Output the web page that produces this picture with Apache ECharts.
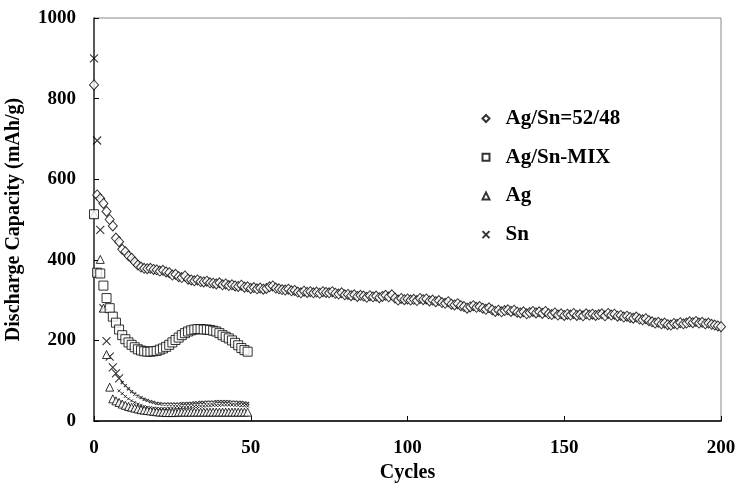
<!DOCTYPE html>
<html>
<head>
<meta charset="utf-8">
<title>Discharge Capacity</title>
<script src="https://cdn.jsdelivr.net/npm/echarts@6/dist/echarts.min.js"></script>
<style>
  html, body { margin: 0; padding: 0; background: #fff; }
  #main { width: 739px; height: 489px; }
</style>
</head>
<body>
<div id="main"></div>
<script>
// series names (legend order)
var seriesNames = ['Ag/Sn=52/48', 'Ag/Sn-MIX', 'Ag', 'Sn'];

// Ag/Sn=52/48, cycles 0..200
var agSn5248 = [
  834, 561, 552, 540, 520, 500, 484, 454, 445, 426,
  420, 410, 404, 395, 387, 382, 379, 378, 379, 376,
  375, 372, 374, 370, 368, 362, 364, 358, 356, 360,
  352, 350, 348, 350, 346, 345, 347, 343, 342, 340,
  343, 338, 340, 336, 338, 335, 334, 337, 332, 333,
  329, 331, 328, 330, 327, 329, 333, 335, 330, 328,
  326, 325, 327, 323, 324, 320, 318, 322, 319, 321,
  318, 320, 317, 321, 319, 318, 321, 317, 315, 318,
  313, 314, 311, 313, 309, 312, 310, 307, 311, 308,
  310, 306, 309, 312, 308, 313, 305, 300, 304, 301,
  303, 300, 302, 299, 304, 301, 303, 298, 300, 296,
  299, 294, 292, 296, 290, 288, 291, 286, 284, 280,
  283, 286, 282, 284, 280, 277, 281, 276, 272, 275,
  271, 274, 276, 272, 275, 270, 268, 271, 266, 269,
  272, 268, 271, 267, 272, 266, 264, 268, 263, 266,
  262, 265, 263, 267, 262, 264, 261, 266, 263, 265,
  262, 264, 266, 261, 267, 263, 265, 260, 262, 258,
  260, 257, 255, 258, 253, 251, 254, 249, 246, 243,
  245, 241, 243, 239, 238, 242, 240, 244, 241, 243,
  246, 244, 247, 243, 245, 241, 243, 240, 238, 236,
  234
];

// Ag/Sn-MIX, cycles 0..49
var agSnMix = [
  513, 368, 366, 336, 305, 280, 259, 244, 227, 213,
  203, 195, 189, 183, 178, 175, 173, 172, 172, 173,
  174, 177, 180, 184, 189, 195, 201, 207, 213, 218,
  222, 225, 227, 228, 228, 227, 227, 226, 224, 222,
  218, 213, 209, 205, 200, 194, 188, 181, 176, 172
];

// Ag, cycles 0..49
var agOnly = [
  513, 370, 401, 280, 165, 84, 55, 50, 46, 42,
  39, 36, 34, 32, 30, 28, 27, 26, 25, 24,
  23, 22, 22, 21, 21, 21, 21, 22, 22, 22,
  22, 22, 22, 22, 22, 22, 22, 22, 22, 22,
  22, 22, 22, 22, 22, 22, 22, 22, 22, 22
];

// Sn, cycles 0..49
var snOnly = [
  900, 696, 474, 280, 198, 160, 133, 118, 106, 95,
  88, 80, 73, 67, 62, 58, 54, 51, 48, 46,
  44, 43, 42, 42, 42, 42, 42, 42, 43, 43,
  44, 44, 45, 45, 46, 46, 47, 47, 47, 48,
  48, 48, 48, 48, 47, 47, 46, 46, 45, 44
];

// unlabelled small marks under the Sn curve, cycles 8..49
var extraStart = 8;
var extraDots = [
  75, 68, 61, 55, 50, 46, 42, 39, 36, 34,
  33, 32, 31, 31, 31, 31, 32, 32, 33, 33,
  34, 34, 35, 35, 36, 36, 37, 37, 38, 38,
  39, 39, 39, 40, 40, 40, 40, 39, 39, 38,
  38, 37
];

var xTicks = [0, 50, 100, 150, 200];
var yTicks = [0, 200, 400, 600, 800, 1000];

function toPoints(arr, start) {
  var out = [];
  start = start || 0;
  for (var i = 0; i < arr.length; i++) {
    out.push([start + i, arr[i]]);
  }
  return out;
}

var serifBold = {
  fontFamily: '"Liberation Serif", "Times New Roman", serif',
  fontWeight: 'bold',
  color: '#000'
};

var hollow = { color: '#fff', borderColor: '#000', borderWidth: 1 };
var crossPath = 'path://M0,0L10,10M10,0L0,10';

var chart = echarts.init(document.getElementById('main'), null, { renderer: 'canvas' });

var option = {
  backgroundColor: '#fff',
  animation: false,
  grid: {
    left: 94, right: 18, top: 18, bottom: 68,
    outerBoundsMode: 'none',
    containLabel: false,
    show: true,
    borderColor: '#888',
    borderWidth: 1
  },
  legend: {
    orient: 'vertical',
    left: 475,
    top: 103,
    itemWidth: 7,
    itemHeight: 7,
    itemGap: 17.7,
    data: seriesNames,
    textStyle: Object.assign({ fontSize: 21, lineHeight: 21, padding: [0, 0, 0, 11] }, serifBold)
  },
  xAxis: {
    type: 'value',
    min: xTicks[0],
    max: xTicks[xTicks.length - 1],
    interval: 50,
    name: 'Cycles',
    nameLocation: 'middle',
    nameGap: 31,
    nameTextStyle: Object.assign({ fontSize: 20 }, serifBold),
    axisLine: { lineStyle: { color: '#000', width: 1.5 } },
    axisTick: { inside: true, length: 5, lineStyle: { color: '#000' } },
    axisLabel: Object.assign({ fontSize: 19, margin: 18 }, serifBold),
    splitLine: { show: false }
  },
  yAxis: {
    type: 'value',
    min: yTicks[0],
    max: yTicks[yTicks.length - 1],
    interval: 200,
    name: 'Discharge Capacity (mAh/g)',
    nameLocation: 'middle',
    nameGap: 70,
    nameTextStyle: Object.assign({ fontSize: 20 }, serifBold),
    axisLine: { lineStyle: { color: '#333', width: 1.5 } },
    axisTick: { inside: true, length: 5, lineStyle: { color: '#000' } },
    axisLabel: Object.assign({
      fontSize: 19,
      margin: 18,
      formatter: function (v) { return String(v); }
    }, serifBold),
    splitLine: { show: false }
  },
  series: [
    {
      name: '',
      type: 'scatter',
      symbol: crossPath,
      symbolSize: 3,
      itemStyle: { color: 'none', borderColor: '#000', borderWidth: 1 },
      data: toPoints(extraDots, extraStart)
    },
    {
      name: seriesNames[3],
      type: 'scatter',
      symbol: crossPath,
      symbolSize: function (val, params) {
        return params.dataIndex > 8 ? 3 : 8;
      },
      itemStyle: { color: 'none', borderColor: '#000', borderWidth: 1.1 },
      data: toPoints(snOnly)
    },
    {
      name: seriesNames[2],
      type: 'scatter',
      symbol: 'triangle',
      symbolSize: 8,
      itemStyle: hollow,
      data: toPoints(agOnly)
    },
    {
      name: seriesNames[1],
      type: 'scatter',
      symbol: 'rect',
      symbolSize: 9,
      itemStyle: hollow,
      data: toPoints(agSnMix)
    },
    {
      name: seriesNames[0],
      type: 'scatter',
      symbol: 'diamond',
      symbolSize: [9, 10],
      itemStyle: hollow,
      data: toPoints(agSn5248)
    }
  ]
};

chart.setOption(option);
</script>
</body>
</html>
